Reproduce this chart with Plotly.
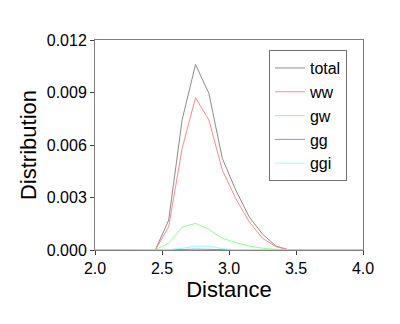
import plotly.graph_objects as go

distance = [1.95, 2.05, 2.15, 2.25, 2.35, 2.45, 2.55, 2.65, 2.75, 2.85, 2.95,
            3.05, 3.15, 3.25, 3.35, 3.45, 3.55, 3.65, 3.75, 3.85, 3.95, 4.05]
total = [0, 0, 0, 0, 0, 0, 0.00171, 0.00743, 0.01060, 0.00895, 0.00524,
         0.00343, 0.00190, 0.00091, 0.00023, 0, 0, 0, 0, 0, 0, 0]
ww = [0, 0, 0, 0, 0, 0, 0.00133, 0.00580, 0.00870, 0.00743, 0.00457,
      0.00295, 0.00162, 0.00067, 0.00019, 0, 0, 0, 0, 0, 0, 0]
gw = [0, 0, 0, 0, 0, 0.00002, 0.00038, 0.00130, 0.00152, 0.00118, 0.00067,
      0.00042, 0.00023, 0.00010, 0.00004, 0, 0, 0, 0, 0, 0, 0]
gg = [0, 0, 0, 0, 0, 0, 0.00001, 0.00003, 0.00005, 0.00005, 0.00003,
      0.00001, 0, 0, 0, 0, 0, 0, 0, 0, 0, 0]
ggi = [0, 0, 0, 0, 0, 0, 0.00002, 0.00010, 0.00022, 0.00022, 0.00008,
       0.00002, 0, 0, 0, 0, 0, 0, 0, 0, 0, 0]

series = [("total", total, "#8c8c8c"), ("ww", ww, "#ff8a8a"),
          ("gw", gw, "#8cff8c"), ("gg", gg, "#8a8aff"), ("ggi", ggi, "#8affff")]

fig = go.Figure()
for name, vals, col in series:
    fig.add_trace(go.Scatter(x=distance, y=vals, mode="lines", name=name,
                             line=dict(color=col, width=1)))

font = "Liberation Sans, Arial, sans-serif"
fig.update_layout(
    width=400, height=324,
    margin=dict(l=87, r=45, t=32, b=82),
    paper_bgcolor="white", plot_bgcolor="white",
    font=dict(family=font, color="black", size=14),
    showlegend=True,
    legend=dict(x=0.649, y=0.952, xanchor="left", yanchor="top",
                bordercolor="#707070", borderwidth=1, bgcolor="white",
                font=dict(size=16, family=font), itemwidth=30,
                tracegroupgap=0),
    xaxis=dict(range=[2.0, 4.0], tickvals=[2.0, 2.5, 3.0, 3.5, 4.0],
               ticktext=["2.0", "2.5", "3.0", "3.5", "4.0"],
               ticks="outside", ticklen=4, tickcolor="#404040",
               showline=True, linecolor="#808080", linewidth=1, mirror=True,
               showgrid=False, zeroline=False,
               tickfont=dict(size=16),
               title=dict(text="Distance", font=dict(size=22), standoff=4)),
    yaxis=dict(range=[0, 0.012], tickvals=[0, 0.003, 0.006, 0.009, 0.012],
               ticktext=["0.000", "0.003", "0.006", "0.009", "0.012"],
               ticks="outside", ticklen=4, tickcolor="#404040",
               showline=True, linecolor="#808080", linewidth=1, mirror=True,
               showgrid=False, zeroline=False,
               tickfont=dict(size=16),
               title=dict(text="Distribution", font=dict(size=22), standoff=4)),
)

fig.write_html("out.html")
